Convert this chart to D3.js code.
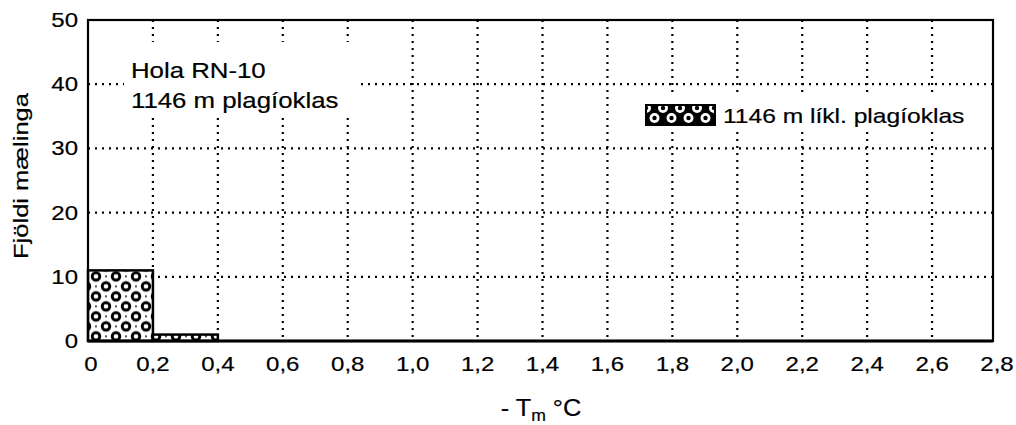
<!DOCTYPE html>
<html>
<head>
<meta charset="utf-8">
<script src="https://cdn.jsdelivr.net/npm/d3@7"></script>
<style>
  html, body { margin: 0; padding: 0; background: #fff; }
  svg { display: block; }
  text { font-family: "Liberation Sans", Arial, sans-serif; fill: #000; stroke: #000; stroke-width: 0.2; }
</style>
</head>
<body>
<svg id="chart" width="1016" height="425"></svg>
<script>
// Histogram of ice-melting temperatures, borehole RN-10, 1146 m
const binStarts = [0, 0.2];
const binWidth = 0.2;
const counts = [11, 1];
const xTicks = [0, 0.2, 0.4, 0.6, 0.8, 1.0, 1.2, 1.4, 1.6, 1.8, 2.0, 2.2, 2.4, 2.6, 2.8];
const xTickLabels = ["0", "0,2", "0,4", "0,6", "0,8", "1,0", "1,2", "1,4", "1,6", "1,8", "2,0", "2,2", "2,4", "2,6", "2,8"];
const yTicks = [0, 10, 20, 30, 40, 50];
const yTickLabels = ["0", "10", "20", "30", "40", "50"];
const legendLabel = "1146 m líkl. plagíoklas";
const noteLines = ["Hola RN-10", "1146 m plagíoklas"];
const yTitle = "Fjöldi mælinga";

const svg = d3.select("#chart");
const plotLeft = 88, plotRight = 993, plotTop = 20, plotBottom = 341;
const SX = 1.2; // horizontal stretch of lettering

const x = d3.scaleLinear().domain([0, 2.8]).range([plotLeft, 997]);
const y = d3.scaleLinear().domain([0, 50]).range([plotBottom, plotTop]);

// fill patterns
const defs = svg.append("defs");
const pat = defs.append("pattern")
  .attr("id", "rings").attr("patternUnits", "userSpaceOnUse")
  .attr("width", 20).attr("height", 20)
  .attr("x", plotLeft + 8).attr("y", y(11) + 6);
pat.append("rect").attr("width", 20).attr("height", 20).attr("fill", "#fff");
[[10, 10], [0, 0], [20, 0], [0, 20], [20, 20]].forEach(([cx, cy]) => {
  pat.append("circle").attr("cx", cx).attr("cy", cy).attr("r", 3.8)
    .attr("fill", "none").attr("stroke", "#000").attr("stroke-width", 2.9);
});
[[10, 0], [0, 10], [20, 10], [10, 20]].forEach(([cx, cy]) => {
  pat.append("circle").attr("cx", cx).attr("cy", cy).attr("r", 0.9).attr("fill", "#000");
});

const lpat = defs.append("pattern")
  .attr("id", "ringsDark").attr("patternUnits", "userSpaceOnUse")
  .attr("width", 17).attr("height", 20).attr("x", 646).attr("y", 105);
lpat.append("rect").attr("width", 17).attr("height", 20).attr("fill", "#000");
[[8.5, 13], [0, 3], [17, 3]].forEach(([cx, cy]) => {
  lpat.append("circle").attr("cx", cx).attr("cy", cy).attr("r", 5).attr("fill", "#fff");
  lpat.append("circle").attr("cx", cx).attr("cy", cy).attr("r", 2.2).attr("fill", "#000");
});

// dotted grid
const grid = svg.append("g").attr("stroke", "#000").attr("stroke-width", 2.2)
  .attr("stroke-dasharray", "2,5");
grid.selectAll(".gx").data(xTicks.filter(v => v > 0 && v < 2.8)).join("line")
  .attr("x1", d => x(d)).attr("x2", d => x(d))
  .attr("y1", plotTop).attr("y2", plotBottom);
grid.selectAll(".gy").data(yTicks.filter(v => v > 0 && v < 50)).join("line")
  .attr("x1", plotLeft).attr("x2", plotRight)
  .attr("y1", d => y(d)).attr("y2", d => y(d));

// blank panels behind the note and the legend
svg.append("rect").attr("x", 124).attr("y", 42).attr("width", 237).attr("height", 72).attr("fill", "#fff");
svg.append("rect").attr("x", 640).attr("y", 97).attr("width", 348).attr("height", 34).attr("fill", "#fff");

// bars
svg.selectAll(".bar").data(binStarts).join("rect")
  .attr("x", d => x(d))
  .attr("y", (d, i) => y(counts[i]))
  .attr("width", d => x(d + binWidth) - x(d))
  .attr("height", (d, i) => y(0) - y(counts[i]))
  .attr("fill", "url(#rings)")
  .attr("stroke", "#000").attr("stroke-width", 2.5);

// frame
svg.append("rect").attr("x", plotLeft).attr("y", plotTop)
  .attr("width", plotRight - plotLeft).attr("height", plotBottom - plotTop)
  .attr("fill", "none").attr("stroke", "#000").attr("stroke-width", 2.2);
svg.append("line").attr("x1", plotLeft).attr("x2", plotRight).attr("y1", plotBottom).attr("y2", plotBottom)
  .attr("stroke", "#000").attr("stroke-width", 3);

function stretchedText(g, tx, ty, str, size, anchor) {
  return g.append("text")
    .attr("transform", `translate(${tx},${ty}) scale(${SX},1)`)
    .attr("font-size", size)
    .attr("text-anchor", anchor || "start")
    .text(str);
}

// tick labels
const xl = svg.append("g");
xTicks.forEach((v, i) => stretchedText(xl, x(v) + (i === 0 ? 3 : 0), 371, xTickLabels[i], 20, "middle"));
const yl = svg.append("g");
yTicks.forEach((v, i) => stretchedText(yl, 78, y(v) + 7, yTickLabels[i], 20, "end"));

// note
stretchedText(svg, 131, 78, noteLines[0], 21.5);
stretchedText(svg, 131, 108, noteLines[1], 21.5);

// legend
svg.append("rect").attr("x", 646).attr("y", 105).attr("width", 69).attr("height", 20)
  .attr("fill", "url(#ringsDark)").attr("stroke", "#000").attr("stroke-width", 2);
stretchedText(svg, 723, 123, legendLabel, 20.5);

// axis titles
svg.append("text")
  .attr("transform", `translate(28,176) rotate(-90)`)
  .attr("font-size", 20).attr("text-anchor", "middle")
  .attr("textLength", 166).attr("lengthAdjust", "spacingAndGlyphs")
  .text(yTitle);

const xt = svg.append("text")
  .attr("transform", `translate(541,416) scale(1.1,1)`)
  .attr("font-size", 23).attr("text-anchor", "middle");
xt.append("tspan").text("- T");
xt.append("tspan").attr("font-size", 16).attr("dy", 5).text("m");
xt.append("tspan").attr("dy", -5).text(" °C");
</script>
</body>
</html>
